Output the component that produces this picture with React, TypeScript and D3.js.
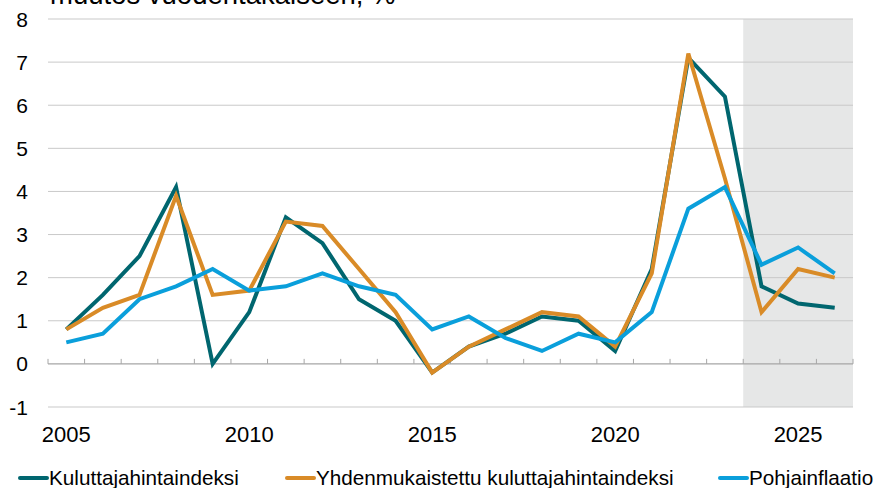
import { useEffect, useRef } from 'react';
import * as d3 from 'd3';

const years = d3.range(2005, 2027).map(String);
const kuluttaja = [0.8, 1.6, 2.5, 4.1, 0.0, 1.2, 3.4, 2.8, 1.5, 1.0, -0.2, 0.4, 0.7, 1.1, 1.0, 0.3, 2.2, 7.1, 6.2, 1.8, 1.4, 1.3];
const yhdenmukaistettu = [0.8, 1.3, 1.6, 3.9, 1.6, 1.7, 3.3, 3.2, 2.2, 1.2, -0.2, 0.4, 0.8, 1.2, 1.1, 0.4, 2.1, 7.2, 4.3, 1.2, 2.2, 2.0];
const pohjainflaatio = [0.5, 0.7, 1.5, 1.8, 2.2, 1.7, 1.8, 2.1, 1.8, 1.6, 0.8, 1.1, 0.6, 0.3, 0.7, 0.5, 1.2, 3.6, 4.1, 2.3, 2.7, 2.1];
const yTicks = [-1, 0, 1, 2, 3, 4, 5, 6, 7, 8];
const xLabels = ['2005', '2010', '2015', '2020', '2025'];
const forecastStart = '2024';

const series = [
    { name: 'Kuluttajahintaindeksi', values: kuluttaja, color: '#00666f' },
    { name: 'Yhdenmukaistettu kuluttajahintaindeksi', values: yhdenmukaistettu, color: '#d98b27' },
    { name: 'Pohjainflaatio', values: pohjainflaatio, color: '#0a9fdb' },
];

const App = () => {
    const svgRef = useRef<SVGSVGElement>(null);

    useEffect(() => {
        if (!svgRef.current) return;
        const svg = d3.select(svgRef.current);
        svg.selectAll('*').remove();

        const width = 875;
        const height = 488;
        const left = 48, right = 853, top = 19, bottom = 407;
        const font = 'Liberation Sans, Arial, sans-serif';

        svg.attr('width', width).attr('height', height);

        const x = d3.scaleBand().domain(years).range([left, right]).padding(0);
        const y = d3.scaleLinear().domain([-1, 8]).range([bottom, top]);
        const cx = (yr: string) => (x(yr) ?? 0) + x.bandwidth() / 2;

        // forecast shading
        svg.append('rect')
            .attr('x', x(forecastStart) ?? 0)
            .attr('y', top)
            .attr('width', right - (x(forecastStart) ?? 0))
            .attr('height', bottom - top)
            .attr('fill', '#e6e7e7');

        // title (cut off at top, as in the original)
        svg.append('text')
            .attr('x', 50)
            .attr('y', 4)
            .style('font-family', font)
            .style('font-size', '27.5px')
            .attr('fill', '#000')
            .text('muutos vuodentakaiseen, %');

        // gridlines
        svg.append('g')
            .selectAll('line')
            .data(yTicks.filter(d => d !== 0))
            .join('line')
            .attr('x1', left)
            .attr('x2', right)
            .attr('y1', d => y(d))
            .attr('y2', d => y(d))
            .attr('stroke', '#c9c9c9')
            .attr('stroke-width', 1);

        // y labels
        svg.append('g')
            .selectAll('text')
            .data(yTicks)
            .join('text')
            .attr('x', 28)
            .attr('y', d => y(d))
            .attr('dy', '0.36em')
            .attr('text-anchor', 'end')
            .style('font-family', font)
            .style('font-size', '21px')
            .attr('fill', '#000')
            .text(d => String(d));

        // zero axis with upward ticks
        svg.append('line')
            .attr('x1', left)
            .attr('x2', right)
            .attr('y1', y(0))
            .attr('y2', y(0))
            .attr('stroke', '#a6a6a6')
            .attr('stroke-width', 1.2);

        const tickPos = years.map(yr => x(yr) ?? 0).concat([right]);
        svg.append('g')
            .selectAll('line')
            .data(tickPos)
            .join('line')
            .attr('x1', d => d)
            .attr('x2', d => d)
            .attr('y1', y(0))
            .attr('y2', y(0) - 5)
            .attr('stroke', '#a6a6a6')
            .attr('stroke-width', 1);

        // x labels
        svg.append('g')
            .selectAll('text')
            .data(xLabels)
            .join('text')
            .attr('x', d => cx(d))
            .attr('y', 442)
            .attr('text-anchor', 'middle')
            .style('font-family', font)
            .style('font-size', '22px')
            .attr('fill', '#000')
            .text(d => d);

        // lines
        const line = d3.line<number>()
            .x((_, i) => cx(years[i]))
            .y(d => y(d));

        series.forEach(s => {
            svg.append('path')
                .datum(s.values)
                .attr('d', line)
                .attr('fill', 'none')
                .attr('stroke', s.color)
                .attr('stroke-width', 4)
                .attr('stroke-linejoin', 'miter');
        });

        // legend
        const legendX = [20, 287, 720];
        const legend = svg.append('g');
        series.forEach((s, i) => {
            legend.append('line')
                .attr('x1', legendX[i])
                .attr('x2', legendX[i] + 27)
                .attr('y1', 478)
                .attr('y2', 478)
                .attr('stroke', s.color)
                .attr('stroke-width', 4)
                .attr('stroke-linecap', 'round');
            legend.append('text')
                .attr('x', legendX[i] + 29)
                .attr('y', 485)
                .style('font-family', font)
                .style('font-size', '20.7px')
                .attr('fill', '#000')
                .text(s.name);
        });
    }, []);

    return (
        <div style={{ position: 'absolute', left: 0, top: 0 }}>
            <svg ref={svgRef} style={{ display: 'block' }}></svg>
        </div>
    );
};

export default App;
